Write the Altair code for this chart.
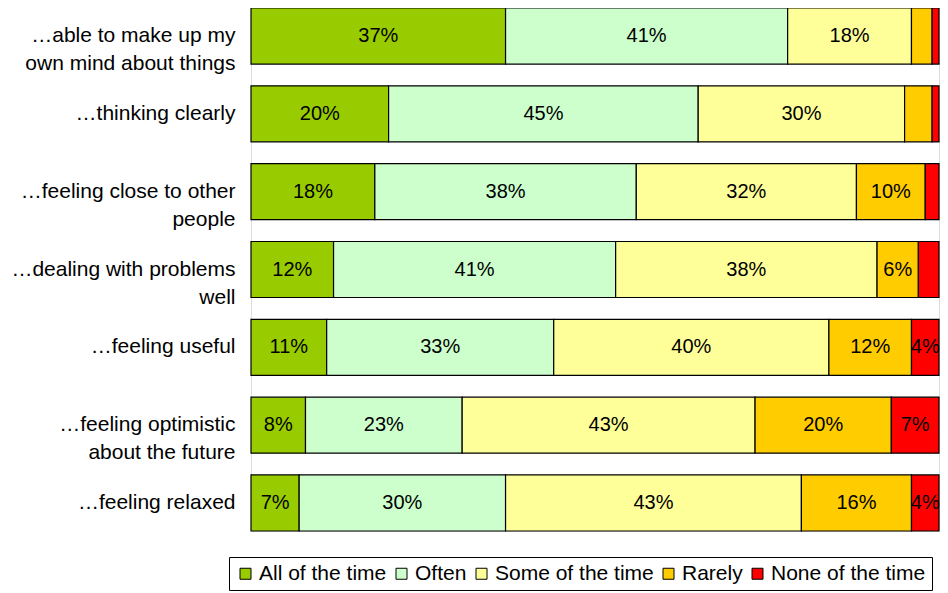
import altair as alt
import pandas as pd

items = [
    "…able to make up my|own mind about things",
    "…thinking clearly",
    "…feeling close to other|people",
    "…dealing with problems|well",
    "…feeling useful",
    "…feeling optimistic|about the future",
    "…feeling relaxed",
]
categories = ["All of the time", "Often", "Some of the time", "Rarely", "None of the time"]
colors = ["#99CC00", "#CCFFCC", "#FFFF99", "#FFCC00", "#FF0000"]

all_time = [37, 20, 18, 12, 11, 8, 7]
often = [41, 45, 38, 41, 33, 23, 30]
some_time = [18, 30, 32, 38, 40, 43, 43]
rarely = [3, 4, 10, 6, 12, 20, 16]
none_time = [1, 1, 2, 3, 4, 7, 4]
# which segments carry a printed label (1 = shown)
shown = [
    [1, 1, 1, 0, 0],
    [1, 1, 1, 0, 0],
    [1, 1, 1, 1, 0],
    [1, 1, 1, 1, 0],
    [1, 1, 1, 1, 1],
    [1, 1, 1, 1, 1],
    [1, 1, 1, 1, 1],
]

series = [all_time, often, some_time, rarely, none_time]
rows = []
for i, item in enumerate(items):
    for j, cat in enumerate(categories):
        v = series[j][i]
        rows.append({
            "item": item,
            "cat": cat,
            "order": j,
            "value": v,
            "label": f"{v}%" if shown[i][j] else "",
        })
df = pd.DataFrame(rows)

FONT = "Liberation Sans"
FS = 21

base = alt.Chart(df).transform_stack(
    stack="value",
    groupby=["item"],
    as_=["x0", "x1"],
    sort=[alt.SortField("order", order="ascending")],
    offset="normalize",
).transform_calculate(
    xm="(datum.x0 + datum.x1) / 2"
)

y_enc = alt.Y(
    "item:N",
    sort=items,
    title=None,
    scale=alt.Scale(paddingInner=0.28, paddingOuter=0),
    axis=alt.Axis(
        domain=False,
        ticks=False,
        labelExpr="split(datum.label, '|')",
        labelFont=FONT,
        labelFontSize=FS,
        labelColor="black",
        labelPadding=16,
        labelLimit=400,
        labelLineHeight=28,
    ),
)

bars = base.mark_bar(stroke="black", strokeWidth=1.2).encode(
    x=alt.X("x0:Q", scale=alt.Scale(domain=[0, 1], nice=False), axis=None),
    x2="x1:Q",
    y=y_enc,
    color=alt.Color(
        "cat:N",
        sort=categories,
        scale=alt.Scale(domain=categories, range=colors),
        legend=alt.Legend(
            title=None,
            orient="none",
            direction="horizontal",
            legendX=-22,
            legendY=549,
            symbolType="square",
            symbolSize=121,
            symbolStrokeColor="black",
            symbolStrokeWidth=1,
            labelFont=FONT,
            labelFontSize=FS,
            labelColor="black",
            strokeColor="black",
            padding=6,
            columnPadding=4,
            labelOffset=3,
        ),
    ),
)

text = base.mark_text(font=FONT, fontSize=FS - 1, color="black").encode(
    x=alt.X("xm:Q", scale=alt.Scale(domain=[0, 1], nice=False)),
    y=alt.Y("item:N", sort=items),
    text="label:N",
)

chart = alt.layer(bars, text).properties(
    width=688,
    height=523,
    autosize=alt.AutoSizeParams(type="none"),
).configure_view(stroke=None).configure(
    padding={"left": 243, "top": 0, "right": 1, "bottom": 62}
)

chart.save("out.html", embed_options={"renderer": "svg", "actions": False})
